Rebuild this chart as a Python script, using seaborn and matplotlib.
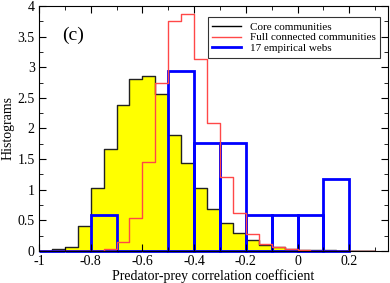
import numpy as np
import pandas as pd
import matplotlib
matplotlib.use("Agg")
import matplotlib.pyplot as plt
import seaborn as sns
from matplotlib.ticker import MultipleLocator

# core communities, bins of 0.05 from -1 to 0.3
core_edges = [round(-1.0 + 0.05 * i, 2) for i in range(27)]
core_heights = [0.0, 0.03, 0.07, 0.41, 1.03, 1.67, 2.38, 2.80, 2.85, 2.56,
                1.89, 1.43, 1.03, 0.68, 0.46, 0.29, 0.18, 0.10, 0.06, 0.04,
                0.02, 0.01, 0.01, 0.0, 0.0, 0.0]

# full connected communities, same bins
full_heights = [0.0, 0.0, 0.0, 0.0, 0.0, 0.03, 0.15, 0.54, 1.46, 2.75,
                3.75, 3.87, 3.13, 2.09, 1.20, 0.62, 0.28, 0.11, 0.06, 0.03,
                0.01, 0.0, 0.0, 0.0, 0.0, 0.0]

# 17 empirical webs, bins of 0.1 from -1 to 0.2 (counts)
emp_edges = [round(-1.0 + 0.1 * i, 2) for i in range(13)]
emp_counts = [0, 0, 1, 0, 0, 5, 3, 3, 1, 1, 1, 2]

core_df = pd.DataFrame({
    "x": [(a + b) / 2 for a, b in zip(core_edges[:-1], core_edges[1:])],
    "core": core_heights,
    "full": full_heights,
})
emp_df = pd.DataFrame({
    "x": [(a + b) / 2 for a, b in zip(emp_edges[:-1], emp_edges[1:])],
    "h": [c / (17 * 0.1) for c in emp_counts],
})

plt.rcParams["font.family"] = ["Liberation Serif", "DejaVu Serif"]

fig = plt.figure(figsize=(3.9, 2.83), dpi=100)
ax = fig.add_axes([0.1, 0.113, 0.895, 0.866])

sns.histplot(data=core_df, x="x", weights="core", bins=core_edges, element="step",
             fill=True, color="yellow", alpha=1, edgecolor="#222222", linewidth=1,
             ax=ax)
sns.histplot(data=core_df, x="x", weights="full", bins=core_edges, element="step",
             fill=False, color="#ff4848", linewidth=1, ax=ax)
sns.histplot(data=emp_df, x="x", weights="h", bins=emp_edges, element="bars",
             fill=False, color="#0000ff", linewidth=2, ax=ax)
for p in ax.patches:
    p.set_clip_on(False)

ax.plot([], [], color="black", lw=1, label="Core communities")
ax.plot([], [], color="#ff4848", lw=1, label="Full connected communities")
ax.plot([], [], color="#0000ff", lw=2, label="17 empirical webs")
leg = ax.legend(loc="upper right", fontsize=8, frameon=True, fancybox=False,
                edgecolor="black", handlelength=2.6, borderpad=0.4, labelspacing=0.1,
                bbox_to_anchor=(0.993, 0.976))
leg.get_frame().set_linewidth(0.8)

ax.text(-0.91, 3.45, "(c)", fontsize=14)

ax.set_xlim(-1, 0.35)
ax.set_ylim(0, 4)
ax.xaxis.set_minor_locator(MultipleLocator(0.1))
ax.yaxis.set_minor_locator(MultipleLocator(0.25))
ax.set_xticks([-1, -0.8, -0.6, -0.4, -0.2, 0, 0.2])
ax.set_xticklabels(["-1", "-0.8", "-0.6", "-0.4", "-0.2", "0", "0.2"])
ax.set_yticks(np.arange(0, 4.01, 0.5))
ax.set_yticklabels(["0", "0.5", "1", "1.5", "2", "2.5", "3", "3.5", "4"])
ax.tick_params(which="both", direction="in", top=True, right=True, labelsize=10, pad=3)
ax.tick_params(which="major", length=5)
ax.tick_params(which="minor", length=3)
ax.set_xlabel("Predator-prey correlation coefficient", fontsize=10, labelpad=1)
ax.set_ylabel("Histograms", fontsize=10, labelpad=2)

fig.savefig("out.png", dpi=100)
